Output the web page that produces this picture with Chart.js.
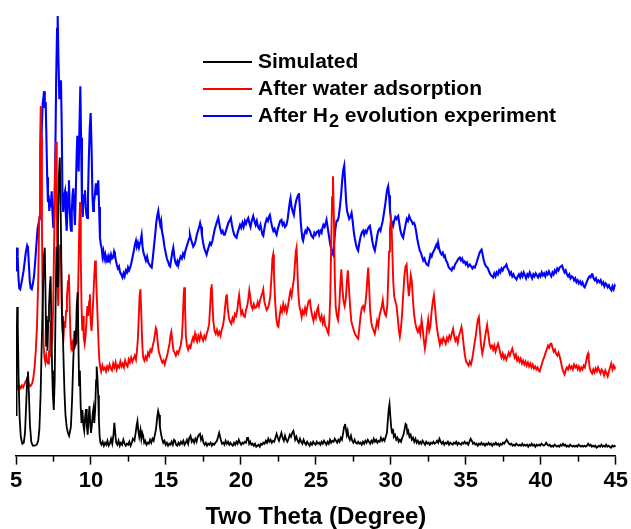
<!DOCTYPE html>
<html>
<head>
<meta charset="utf-8">
<script src="https://cdn.jsdelivr.net/npm/chart.js@4.4.1/dist/chart.umd.min.js"></script>
<style>
  html, body { margin: 0; padding: 0; background: #fff; }
  #wrap { width: 631px; height: 529px; }
</style>
</head>
<body>
<div id="wrap"><canvas id="xrd" width="631" height="529"></canvas></div>
<script>
// [two theta, intensity (arb.)], curves already offset
const simulated = [
[5.00,40],[5.04,110],[5.08,149],[5.12,130],[5.17,80],[5.24,38],[5.32,18],[5.42,11],[5.52,12],[5.6,22],[5.68,50],[5.75,78],[5.8,84],[5.86,62],[5.93,30],[6.02,13],[6.12,9],[6.25,9],[6.38,10],[6.48,14],[6.56,26],[6.64,60],[6.72,115],[6.8,165],[6.86,200],[6.92,209],[6.97,160],[7.01,110],[7.05,140],[7.1,105],[7.15,135],[7.2,150],[7.26,170],[7.31,180],[7.36,125],[7.41,85],[7.46,60],[7.52,45],[7.58,75],[7.64,150],[7.7,210],[7.75,170],[7.8,230],[7.86,280],[7.92,300],[7.97,260],[8.02,200],[8.07,140],[8.13,119],[8.18,90],[8.24,60],[8.3,40],[8.38,28],[8.46,22],[8.54,19],[8.6,19],[8.66,28],[8.74,55],[8.82,95],[8.9,125],[8.98,110],[9.05,150],[9.11,164],[9.16,115],[9.21,70],[9.26,85],[9.31,50],[9.37,32],[9.43,45],[9.49,30],[9.55,24],[9.61,38],[9.67,46],[9.72,30],[9.78,20],[9.84,36],[9.9,49],[9.95,32],[10.0,22],[10.06,30],[10.12,42],[10.17,47],[10.22,32],[10.28,45],[10.34,75],[10.38,89],[10.43,78],[10.48,60],[10.53,35],[10.58,18],[10.63,12],
[10.7,10],[10.78,13],[10.86,9],[10.94,12],[11.02,10],[11.1,14],[11.18,9],[11.26,11],[11.34,16],[11.42,11],[11.5,20],[11.56,32],[11.62,22],[11.68,12],[11.76,10],[11.84,14],[11.92,9],[12.0,12],[12.08,10],[12.16,15],[12.24,11],[12.32,9],[12.4,11],[12.48,10],[12.56,13],[12.64,9],[12.72,12],[12.8,16],[12.9,14],[12.98,22],[13.05,30],[13.1,34],[13.16,24],[13.22,18],[13.3,25],[13.36,16],[13.42,22],[13.48,19],[13.55,12],[13.62,14],[13.7,10],[13.78,12],[13.86,11],[13.94,15],[14.02,12],[14.1,16],[14.18,14],[14.26,20],[14.34,26],[14.42,38],[14.48,44],[14.54,40],[14.6,28],[14.66,22],[14.74,16],[14.82,12],[14.9,14],[14.98,10],[15.06,12],[15.14,9],[15.22,11],[15.3,10],[15.38,13],[15.46,10],[15.54,15],[15.6,14],[15.68,10],[15.76,9],[15.84,12],[15.92,10],[16.0,13],[16.08,11],[16.16,14],[16.24,10],[16.32,12],[16.4,15],[16.48,11],[16.56,17],[16.64,19],[16.72,13],[16.8,15],[16.88,12],[16.96,16],[17.04,13],[17.12,18],[17.2,20],[17.27,21],[17.34,15],[17.42,18],[17.5,12],[17.58,10],[17.66,12],[17.74,9],[17.82,11],[17.9,10],[17.98,12],[18.06,9],[18.14,11],[18.22,10],[18.3,12],[18.4,14],[18.48,18],[18.55,22],[18.6,22],[18.66,15],[18.74,11],[18.82,12],[18.9,10],[18.98,14],[19.06,11],[19.14,13],[19.22,10],[19.3,12],[19.38,10],[19.46,9],[19.54,12],[19.62,10],[19.7,13],[19.78,11],[19.86,15],[19.94,12],[20.02,10],[20.1,12],[20.18,11],[20.26,13],[20.34,12],[20.42,17],[20.48,17],[20.55,11],[20.62,13],[20.7,10],[20.78,11],[20.86,9],[20.94,11],[21.02,8],[21.1,9],[21.18,10],[21.26,8],[21.34,11],[21.42,10],[21.5,12],[21.58,11],[21.66,14],[21.74,12],[21.82,16],[21.9,13],[21.98,15],[22.06,12],[22.14,14],[22.22,13],[22.3,17],[22.38,21],[22.46,17],[22.54,14],[22.62,18],[22.7,22],[22.78,17],[22.86,14],[22.94,19],[23.02,15],[23.1,13],[23.18,16],[23.26,20],[23.34,18],[23.42,22],[23.5,24],[23.56,20],[23.62,15],[23.7,18],[23.78,14],[23.86,12],[23.94,16],[24.02,13],[24.1,11],[24.18,15],[24.26,12],[24.34,10],[24.42,13],[24.5,11],[24.58,9],[24.66,12],[24.74,10],[24.82,13],[24.9,11],[24.98,10],[25.06,13],[25.14,11],[25.22,12],[25.3,10],[25.38,13],[25.46,11],[25.54,14],[25.62,12],[25.7,10],[25.78,13],[25.86,11],[25.94,15],[26.02,12],[26.1,14],[26.18,13],[26.26,16],[26.34,14],[26.42,12],[26.5,15],[26.58,13],[26.66,17],[26.74,15],[26.82,22],[26.88,28],[26.94,31],[27.0,26],[27.06,20],[27.12,24],[27.18,18],[27.26,15],[27.34,19],[27.42,14],[27.5,12],[27.58,15],[27.66,12],[27.74,11],[27.82,13],[27.9,11],[27.98,12],[28.06,10],[28.14,13],[28.22,11],[28.3,14],[28.38,12],[28.46,15],[28.54,13],[28.62,11],[28.7,14],[28.78,12],[28.86,16],[28.94,13],[29.02,15],[29.1,12],[29.18,14],[29.26,13],[29.34,17],[29.42,14],[29.5,16],[29.58,14],[29.66,18],[29.74,22],[29.8,35],[29.86,46],[29.91,51],[29.96,40],[30.02,28],[30.08,22],[30.14,26],[30.2,18],[30.28,20],[30.36,15],[30.44,17],[30.52,13],[30.6,15],[30.68,13],[30.76,17],[30.84,20],[30.92,26],[30.98,31],[31.04,30],[31.1,22],[31.16,24],[31.24,18],[31.32,20],[31.4,15],[31.48,17],[31.56,13],[31.64,16],[31.72,12],[31.8,14],[31.88,11],[31.96,13],[32.04,11],[32.12,14],[32.2,12],[32.28,10],[32.36,13],[32.44,11],[32.52,12],[32.6,10],[32.68,12],[32.76,11],[32.84,13],[32.92,11],[33.0,12],[33.08,14],[33.16,12],[33.24,16],[33.32,13],[33.4,11],[33.48,13],[33.56,10],[33.64,12],[33.72,11],[33.8,13],[33.88,10],[33.96,12],[34.04,11],[34.12,10],[34.2,12],[34.28,11],[34.36,13],[34.44,10],[34.52,12],[34.6,11],[34.68,10],[34.76,12],[34.84,11],[34.92,13],[35.0,11],[35.08,12],[35.16,10],[35.24,13],[35.32,16],[35.4,14],[35.48,11],[35.56,12],[35.64,10],[35.72,11],[35.8,9],[35.88,11],[35.96,10],[36.04,12],[36.12,10],[36.2,11],[36.28,9],[36.36,11],[36.44,10],[36.52,12],[36.6,10],[36.68,11],[36.76,9],[36.84,11],[36.92,10],[37.0,12],[37.08,10],[37.16,11],[37.24,9],[37.32,11],[37.4,10],[37.48,12],[37.56,11],[37.64,13],[37.72,15],[37.8,13],[37.88,11],[37.96,10],[38.04,11],[38.12,9],[38.2,10],[38.28,9],[38.36,11],[38.44,10],[38.52,9],[38.6,10],[38.68,9],[38.76,11],[38.84,9],[38.92,10],[39.0,9],[39.08,10],[39.16,8],[39.24,10],[39.32,9],[39.4,11],[39.48,9],[39.56,10],[39.64,8],[39.72,10],[39.8,9],[39.88,10],[39.96,9],[40.04,11],[40.12,10],[40.2,9],[40.28,10],[40.36,12],[40.44,10],[40.52,9],[40.6,10],[40.68,8],[40.76,9],[40.84,8],[40.92,10],[41.0,9],[41.08,8],[41.16,9],[41.24,8],[41.32,10],[41.4,9],[41.48,11],[41.56,9],[41.64,10],[41.72,8],[41.8,9],[41.88,8],[41.96,10],[42.04,9],[42.12,8],[42.2,9],[42.28,8],[42.36,9],[42.44,8],[42.52,10],[42.6,9],[42.68,8],[42.76,9],[42.84,8],[42.92,9],[43.0,8],[43.08,9],[43.16,11],[43.24,9],[43.32,10],[43.4,8],[43.48,9],[43.56,8],[43.64,9],[43.72,7],[43.8,8],[43.88,9],[43.96,8],[44.04,10],[44.12,8],[44.2,9],[44.28,8],[44.36,10],[44.44,8],[44.52,9],[44.6,8],[44.68,7],[44.76,9],[44.84,8],[44.92,9],[45.0,8]
];

const waterAdsorbed = [
[5.0,76],[5.03,70],[5.07,66],[5.12,68],[5.18,66],[5.25,69],[5.32,67],[5.4,70],[5.48,68],[5.56,71],[5.64,74],[5.72,76],[5.8,75],[5.86,71],[5.93,69],[6.0,70],[6.08,72],[6.16,78],[6.24,88],[6.32,105],[6.4,130],[6.48,175],[6.55,240],[6.6,310],[6.65,352],[6.69,320],[6.73,230],[6.78,150],[6.84,110],[6.9,98],[6.96,93],[7.02,100],[7.08,94],[7.14,92],[7.2,105],[7.26,98],[7.31,135],[7.36,108],[7.42,118],[7.48,150],[7.55,220],[7.61,290],[7.67,316],[7.72,260],[7.77,170],[7.82,150],[7.88,195],[7.95,212],[8.0,200],[8.05,150],[8.1,125],[8.17,119],[8.23,135],[8.28,128],[8.34,145],[8.4,160],[8.47,175],[8.53,182],[8.58,150],[8.63,120],[8.69,108],[8.75,112],[8.8,104],[8.86,115],[8.92,107],[8.98,118],[9.04,112],[9.1,135],[9.16,180],[9.22,230],[9.27,255],[9.32,200],[9.37,150],[9.42,125],[9.47,140],[9.52,118],[9.58,112],[9.64,120],[9.7,135],[9.76,150],[9.82,140],[9.88,155],[9.93,162],[9.98,135],[10.04,125],[10.1,140],[10.16,160],[10.22,180],[10.28,196],[10.33,185],[10.39,160],[10.45,135],[10.51,110],[10.56,95],[10.61,89],
[10.68,84],[10.76,90],[10.84,86],[10.92,88],[11.0,84],[11.08,89],[11.16,86],[11.24,91],[11.32,87],[11.4,85],[11.48,92],[11.56,88],[11.64,93],[11.72,86],[11.8,90],[11.88,88],[11.96,94],[12.04,89],[12.12,92],[12.2,88],[12.28,95],[12.36,91],[12.44,89],[12.52,96],[12.6,93],[12.68,98],[12.76,94],[12.84,97],[12.92,100],[13.0,96],[13.06,104],[13.12,115],[13.18,135],[13.24,160],[13.3,167],[13.36,140],[13.42,112],[13.48,98],[13.56,95],[13.64,99],[13.72,96],[13.8,103],[13.88,100],[13.96,106],[14.04,104],[14.12,110],[14.2,115],[14.27,122],[14.33,128],[14.38,126],[14.44,115],[14.52,104],[14.6,100],[14.68,96],[14.76,93],[14.84,95],[14.92,91],[15.0,96],[15.08,100],[15.16,106],[15.24,112],[15.3,120],[15.36,124],[15.42,116],[15.5,105],[15.58,103],[15.66,100],[15.74,104],[15.82,102],[15.9,106],[15.98,110],[16.06,118],[16.12,135],[16.18,160],[16.22,169],[16.27,150],[16.33,120],[16.4,110],[16.48,106],[16.56,110],[16.64,108],[16.72,114],[16.8,118],[16.86,115],[16.94,122],[17.0,117],[17.08,114],[17.16,120],[17.24,116],[17.32,122],[17.4,118],[17.48,115],[17.56,120],[17.64,117],[17.72,122],[17.8,126],[17.88,132],[17.95,150],[18.01,168],[18.05,172],[18.1,155],[18.16,135],[18.24,125],[18.32,122],[18.4,126],[18.48,121],[18.56,124],[18.64,120],[18.72,126],[18.8,130],[18.88,138],[18.95,150],[19.02,160],[19.06,162],[19.12,148],[19.2,138],[19.28,134],[19.36,132],[19.44,138],[19.52,135],[19.6,142],[19.68,140],[19.76,146],[19.82,155],[19.88,161],[19.94,152],[20.02,142],[20.1,145],[20.18,140],[20.26,139],[20.34,146],[20.42,150],[20.5,158],[20.56,166],[20.62,160],[20.7,150],[20.78,147],[20.86,152],[20.94,148],[21.04,149],[21.12,154],[21.2,150],[21.28,156],[21.36,160],[21.44,164],[21.49,167],[21.56,155],[21.64,150],[21.72,146],[21.8,148],[21.88,152],[21.96,160],[22.04,180],[22.1,198],[22.15,202],[22.2,185],[22.28,155],[22.36,138],[22.44,130],[22.5,129],[22.58,140],[22.66,148],[22.74,144],[22.82,152],[22.9,146],[22.98,150],[23.06,144],[23.14,150],[23.22,158],[23.3,165],[23.38,160],[23.46,170],[23.54,178],[23.6,192],[23.66,205],[23.71,209],[23.76,190],[23.82,165],[23.9,150],[23.98,145],[24.05,139],[24.12,145],[24.2,142],[24.28,148],[24.36,143],[24.44,150],[24.52,155],[24.6,156],[24.68,146],[24.76,140],[24.84,135],[24.92,142],[25.0,138],[25.08,146],[25.15,149],[25.22,140],[25.3,136],[25.38,140],[25.46,133],[25.54,138],[25.62,130],[25.7,128],[25.78,124],[25.84,122],[25.9,135],[25.96,160],[26.02,210],[26.08,260],[26.14,281],[26.2,240],[26.26,180],[26.32,150],[26.4,140],[26.48,136],[26.56,150],[26.63,172],[26.7,187],[26.76,170],[26.84,155],[26.92,150],[27.0,158],[27.07,175],[27.13,186],[27.2,170],[27.28,150],[27.36,135],[27.44,130],[27.52,126],[27.6,122],[27.68,120],[27.76,118],[27.82,117],[27.9,128],[27.98,140],[28.06,148],[28.14,150],[28.22,146],[28.3,152],[28.38,165],[28.44,180],[28.49,189],[28.55,170],[28.62,145],[28.7,133],[28.78,128],[28.86,125],[28.93,122],[29.0,128],[29.08,135],[29.16,130],[29.24,140],[29.32,145],[29.4,150],[29.46,156],[29.52,148],[29.6,142],[29.68,140],[29.76,150],[29.82,175],[29.88,205],[29.94,228],[30.0,237],[30.05,231],[30.1,205],[30.16,175],[30.22,160],[30.3,155],[30.38,150],[30.46,138],[30.54,125],[30.6,119],[30.66,125],[30.74,140],[30.82,160],[30.9,180],[30.98,190],[31.05,192],[31.12,175],[31.2,160],[31.27,170],[31.33,181],[31.4,175],[31.48,155],[31.56,140],[31.64,132],[31.72,127],[31.8,124],[31.88,128],[31.96,122],[32.05,136],[32.12,128],[32.2,115],[32.27,107],[32.34,115],[32.42,128],[32.49,136],[32.56,125],[32.64,130],[32.72,145],[32.8,155],[32.87,161],[32.94,150],[33.02,135],[33.1,125],[33.18,118],[33.27,111],[33.35,116],[33.42,113],[33.5,118],[33.58,115],[33.66,112],[33.74,118],[33.82,115],[33.9,120],[33.98,117],[34.06,122],[34.15,127],[34.22,120],[34.3,115],[34.38,118],[34.46,113],[34.54,120],[34.62,124],[34.71,129],[34.78,122],[34.86,110],[34.94,100],[35.02,94],[35.1,92],[35.18,90],[35.26,94],[35.34,91],[35.42,96],[35.5,104],[35.58,112],[35.66,120],[35.74,130],[35.8,136],[35.87,139],[35.94,125],[36.02,110],[36.1,102],[36.18,108],[36.26,116],[36.34,124],[36.42,131],[36.5,122],[36.58,112],[36.66,108],[36.74,110],[36.82,106],[36.9,110],[36.98,104],[37.06,108],[37.15,112],[37.22,108],[37.3,102],[37.38,98],[37.46,102],[37.54,97],[37.62,100],[37.7,96],[37.78,99],[37.86,103],[37.94,100],[38.02,104],[38.1,107],[38.18,102],[38.26,98],[38.34,101],[38.42,95],[38.5,98],[38.58,94],[38.66,97],[38.74,92],[38.82,95],[38.9,91],[38.98,94],[39.06,90],[39.14,93],[39.22,89],[39.3,92],[39.38,88],[39.46,91],[39.54,87],[39.62,89],[39.7,86],[39.78,88],[39.86,85],[39.93,84],[40.0,88],[40.08,92],[40.16,96],[40.24,99],[40.32,103],[40.4,106],[40.48,110],[40.56,108],[40.64,112],[40.71,112],[40.78,108],[40.86,104],[40.94,106],[41.02,102],[41.1,100],[41.18,103],[41.26,99],[41.34,94],[41.42,88],[41.5,84],[41.58,81],[41.66,85],[41.74,88],[41.82,86],[41.9,90],[41.98,87],[42.06,89],[42.14,86],[42.22,91],[42.3,88],[42.38,90],[42.46,86],[42.54,89],[42.62,85],[42.7,88],[42.78,86],[42.86,90],[42.94,88],[43.02,94],[43.1,100],[43.15,102],[43.2,96],[43.26,88],[43.34,84],[43.42,82],[43.5,86],[43.58,83],[43.66,87],[43.74,84],[43.82,88],[43.9,85],[43.98,82],[44.06,86],[44.14,84],[44.22,80],[44.3,85],[44.38,82],[44.46,79],[44.54,84],[44.62,88],[44.7,92],[44.78,86],[44.86,90],[44.94,87],[45.0,89]
];

const h2Evolution = [
[5.0,186],[5.03,200],[5.07,209],[5.11,200],[5.16,180],[5.22,168],[5.28,167],[5.35,172],[5.42,178],[5.5,185],[5.58,195],[5.66,205],[5.74,211],[5.8,208],[5.86,192],[5.92,175],[5.98,168],[6.05,167],[6.12,172],[6.2,180],[6.28,195],[6.36,212],[6.44,228],[6.52,235],[6.6,239],[6.66,280],[6.72,330],[6.78,355],[6.84,362],[6.87,367],[6.92,350],[6.98,356],[7.03,319],[7.08,280],[7.13,255],[7.18,262],[7.22,246],[7.28,258],[7.33,250],[7.38,266],[7.43,245],[7.49,229],[7.55,240],[7.62,300],[7.68,380],[7.74,430],[7.78,443],[7.83,400],[7.89,359],[7.95,370],[8.0,378],[8.05,330],[8.1,259],[8.15,245],[8.21,262],[8.27,266],[8.33,240],[8.38,226],[8.44,250],[8.49,265],[8.53,277],[8.58,250],[8.63,232],[8.67,226],[8.72,245],[8.77,262],[8.82,269],[8.87,250],[8.93,232],[8.98,260],[9.04,300],[9.09,322],[9.14,300],[9.18,286],[9.23,330],[9.29,372],[9.34,320],[9.4,252],[9.45,240],[9.5,258],[9.55,262],[9.6,267],[9.65,250],[9.7,242],[9.75,239],[9.8,260],[9.86,300],[9.92,330],[9.98,345],[10.04,310],[10.1,260],[10.15,246],[10.2,255],[10.26,262],[10.33,274],[10.38,262],[10.43,270],[10.49,277],[10.54,250],[10.6,219],[10.66,212],[10.71,209],[10.77,200],[10.83,205],[10.89,198],[10.95,202],[11.01,196],[11.07,199],[11.13,194],[11.2,200],[11.27,196],[11.34,202],[11.41,198],[11.48,199],[11.54,205],[11.6,202],[11.66,196],[11.72,192],[11.8,188],[11.87,190],[11.94,184],[12.02,182],[12.1,179],[12.17,183],[12.24,180],[12.32,186],[12.4,184],[12.47,189],[12.54,186],[12.62,189],[12.7,194],[12.78,200],[12.86,206],[12.93,212],[13.0,216],[13.06,210],[13.13,214],[13.2,209],[13.27,214],[13.33,218],[13.38,222],[13.44,210],[13.5,204],[13.58,200],[13.66,196],[13.74,200],[13.82,194],[13.9,192],[13.98,190],[14.05,189],[14.12,198],[14.2,210],[14.28,222],[14.36,235],[14.43,242],[14.49,246],[14.55,238],[14.62,232],[14.68,236],[14.74,225],[14.82,219],[14.9,210],[14.98,204],[15.06,198],[15.14,195],[15.22,191],[15.28,190],[15.36,198],[15.43,205],[15.49,209],[15.56,200],[15.63,194],[15.7,192],[15.76,195],[15.82,191],[15.9,196],[15.98,200],[16.06,198],[16.14,203],[16.22,200],[16.3,206],[16.38,210],[16.46,214],[16.54,218],[16.6,222],[16.66,218],[16.74,214],[16.82,210],[16.9,212],[16.98,216],[17.06,222],[17.14,226],[17.22,230],[17.28,234],[17.34,230],[17.4,222],[17.48,214],[17.56,208],[17.64,205],[17.71,202],[17.78,206],[17.86,210],[17.94,214],[18.02,212],[18.1,216],[18.18,222],[18.26,228],[18.34,232],[18.42,236],[18.49,239],[18.55,234],[18.62,228],[18.7,224],[18.78,226],[18.86,222],[18.93,222],[19.0,226],[19.08,230],[19.16,234],[19.24,236],[19.33,239],[19.4,232],[19.48,226],[19.56,222],[19.64,220],[19.71,219],[19.78,224],[19.86,228],[19.94,232],[20.02,229],[20.1,234],[20.18,230],[20.26,236],[20.34,233],[20.42,237],[20.49,239],[20.56,234],[20.64,230],[20.72,236],[20.82,241],[20.9,236],[20.98,232],[21.06,236],[21.14,230],[21.22,228],[21.3,232],[21.38,226],[21.44,222],[21.49,221],[21.56,228],[21.64,234],[21.72,238],[21.8,236],[21.86,240],[21.93,242],[22.0,236],[22.08,230],[22.16,226],[22.24,228],[22.32,224],[22.38,222],[22.46,228],[22.54,232],[22.62,236],[22.71,237],[22.78,232],[22.86,234],[22.94,230],[23.04,232],[23.12,238],[23.2,248],[23.26,255],[23.31,259],[23.38,250],[23.46,245],[23.53,242],[23.6,250],[23.68,256],[23.76,260],[23.82,262],[23.87,264],[23.93,250],[23.99,235],[24.05,225],[24.1,218],[24.15,216],[24.22,222],[24.3,226],[24.38,224],[24.45,229],[24.52,228],[24.6,226],[24.68,222],[24.76,220],[24.82,219],[24.9,224],[24.98,222],[25.06,225],[25.15,226],[25.22,222],[25.3,226],[25.38,224],[25.44,229],[25.5,232],[25.58,230],[25.66,234],[25.71,237],[25.78,230],[25.86,222],[25.94,214],[26.02,208],[26.08,204],[26.15,202],[26.22,214],[26.3,228],[26.38,236],[26.44,236],[26.52,240],[26.6,250],[26.68,262],[26.76,278],[26.83,288],[26.89,292],[26.95,275],[27.02,255],[27.08,246],[27.15,242],[27.22,238],[27.3,240],[27.38,244],[27.45,236],[27.52,226],[27.6,218],[27.68,212],[27.75,208],[27.82,206],[27.9,214],[27.98,220],[28.06,224],[28.15,226],[28.22,222],[28.3,226],[28.38,224],[28.46,228],[28.54,230],[28.6,231],[28.68,224],[28.76,216],[28.84,210],[28.93,206],[29.0,212],[29.08,220],[29.16,226],[29.24,228],[29.31,226],[29.38,231],[29.46,236],[29.54,244],[29.62,252],[29.7,262],[29.76,268],[29.82,271],[29.88,262],[29.94,248],[30.0,238],[30.08,234],[30.15,231],[30.22,236],[30.3,240],[30.38,238],[30.44,240],[30.49,241],[30.56,234],[30.64,226],[30.72,222],[30.82,219],[30.9,226],[30.98,232],[31.06,238],[31.14,236],[31.22,241],[31.3,238],[31.38,236],[31.46,233],[31.54,234],[31.6,232],[31.68,226],[31.76,218],[31.84,212],[31.93,206],[32.0,204],[32.08,200],[32.16,196],[32.24,198],[32.32,194],[32.4,192],[32.49,191],[32.56,196],[32.64,202],[32.72,200],[32.8,204],[32.88,206],[32.96,209],[33.04,212],[33.1,210],[33.15,214],[33.22,208],[33.3,204],[33.38,202],[33.46,204],[33.54,200],[33.6,201],[33.68,196],[33.76,194],[33.84,190],[33.92,188],[34.0,187],[34.05,186],[34.12,189],[34.2,188],[34.28,192],[34.36,194],[34.44,196],[34.52,198],[34.6,199],[34.68,196],[34.76,198],[34.84,194],[34.92,195],[35.0,192],[35.08,194],[35.16,190],[35.27,192],[35.36,190],[35.44,188],[35.52,190],[35.6,189],[35.68,192],[35.76,196],[35.84,200],[35.92,204],[36.0,206],[36.05,207],[36.12,202],[36.2,196],[36.28,192],[36.36,190],[36.44,189],[36.52,186],[36.6,183],[36.68,181],[36.76,180],[36.82,179],[36.9,183],[36.98,180],[37.06,184],[37.14,182],[37.22,186],[37.3,184],[37.38,188],[37.46,186],[37.54,189],[37.62,190],[37.71,192],[37.78,188],[37.86,186],[37.94,182],[38.02,184],[38.1,180],[38.18,182],[38.26,179],[38.34,178],[38.38,177],[38.46,180],[38.54,182],[38.62,179],[38.7,183],[38.78,180],[38.86,184],[38.94,181],[39.02,178],[39.1,182],[39.18,180],[39.26,184],[39.34,181],[39.42,178],[39.5,182],[39.58,180],[39.66,183],[39.74,181],[39.82,179],[39.9,182],[39.98,180],[40.06,184],[40.14,181],[40.22,183],[40.3,180],[40.38,184],[40.46,182],[40.54,185],[40.62,182],[40.7,180],[40.78,184],[40.86,182],[40.94,186],[41.02,184],[41.1,188],[41.18,186],[41.26,189],[41.34,190],[41.42,191],[41.5,187],[41.58,184],[41.66,186],[41.74,182],[41.82,180],[41.9,182],[41.98,178],[42.06,180],[42.15,179],[42.22,176],[42.3,178],[42.38,174],[42.46,176],[42.54,173],[42.62,175],[42.7,172],[42.78,174],[42.86,170],[42.93,169],[43.0,172],[43.08,175],[43.16,178],[43.24,180],[43.32,179],[43.4,182],[43.45,182],[43.52,178],[43.6,176],[43.68,178],[43.76,174],[43.84,176],[43.93,174],[44.0,176],[44.08,172],[44.16,174],[44.24,170],[44.32,173],[44.38,172],[44.46,169],[44.54,171],[44.62,168],[44.71,166],[44.78,170],[44.86,167],[44.94,171],[45.0,170]
];

const seriesNames = ['Simulated', 'After water adsorption', 'After H2 evolution experiment'];
const seriesColors = ['#000000', '#ff0000', '#0000ff'];
const xTicks = [5, 10, 15, 20, 25, 30, 35, 40, 45];

const FONT = '"Liberation Sans", Arial, sans-serif';

function toPoints(arr) {
    return arr.map(p => ({ x: p[0], y: p[1] }));
}

// legend drawn by hand so the "2" in H2 can sit as a subscript
const legendPlugin = {
    id: 'xrdLegend',
    afterDraw(chart) {
        const ctx = chart.ctx;
        const rows = [62, 89, 116];
        ctx.save();
        ctx.textBaseline = 'middle';
        ctx.fillStyle = '#000';
        for (let i = 0; i < seriesNames.length; i++) {
            let y = rows[i];
            ctx.strokeStyle = seriesColors[i];
            ctx.lineWidth = 2;
            ctx.beginPath();
            ctx.moveTo(203, y);
            ctx.lineTo(252, y);
            ctx.stroke();

            ctx.font = 'bold 21px ' + FONT;
            let x = 258;
            let name = seriesNames[i];
            let sub = name.indexOf('H2');
            if (sub < 0) {
                ctx.fillText(name, x, y);
            } else {
                let before = name.slice(0, sub + 1);
                let after = name.slice(sub + 2);
                ctx.fillText(before, x, y);
                x += ctx.measureText(before).width;
                ctx.font = 'bold 18px ' + FONT;
                ctx.fillText('2', x + 1, y + 6);
                x += ctx.measureText('2').width + 1;
                ctx.font = 'bold 21px ' + FONT;
                ctx.fillText(after, x, y);
            }
        }
        ctx.restore();
    }
};

// shorter minor ticks at the half steps
const minorTicks = {
    id: 'minorTicks',
    afterDraw(chart) {
        const xs = chart.scales.x;
        const ctx = chart.ctx;
        const y0 = chart.chartArea.bottom;
        ctx.save();
        ctx.strokeStyle = '#000';
        ctx.lineWidth = 1.5;
        xs.ticks.forEach(t => {
            if (xTicks.indexOf(t.value) < 0) {
                let px = Math.round(xs.getPixelForValue(t.value)) + 0.5;
                ctx.beginPath();
                ctx.moveTo(px, y0);
                ctx.lineTo(px, y0 + 6);
                ctx.stroke();
            }
        });
        ctx.restore();
    }
};

let canvas = document.getElementById('xrd').getContext('2d');
let chart = new Chart(canvas, {
    type: 'line',
    data: {
        datasets: [
            { label: seriesNames[0], data: toPoints(simulated), borderColor: seriesColors[0], borderWidth: 1.8 },
            { label: seriesNames[1], data: toPoints(waterAdsorbed), borderColor: seriesColors[1], borderWidth: 1.9 },
            { label: seriesNames[2], data: toPoints(h2Evolution), borderColor: seriesColors[2], borderWidth: 2.1 }
        ]
    },
    options: {
        responsive: false,
        animation: false,
        devicePixelRatio: 1,
        elements: { point: { radius: 0 }, line: { tension: 0, fill: false } },
        layout: { padding: { top: 10, left: 16, right: 15, bottom: 0 } },
        plugins: { legend: { display: false }, tooltip: { enabled: false } },
        scales: {
            x: {
                type: 'linear',
                min: 5,
                max: 45,
                border: { display: true, color: '#000', width: 1.5 },
                grid: {
                    display: true,
                    drawOnChartArea: false,
                    drawTicks: true,
                    tickLength: 9,
                    tickWidth: 1.5,
                    tickColor: c => (c.tick && xTicks.indexOf(c.tick.value) >= 0) ? '#000' : 'rgba(0,0,0,0)'
                },
                ticks: {
                    stepSize: 2.5,
                    autoSkip: false,
                    maxRotation: 0,
                    padding: 3,
                    color: '#000',
                    font: { family: FONT, size: 22, weight: 'bold', lineHeight: 1.2 },
                    callback: v => xTicks.indexOf(v) >= 0 ? String(v) : ''
                },
                title: {
                    display: true,
                    text: 'Two Theta (Degree)',
                    color: '#000',
                    font: { family: FONT, size: 24, weight: 'bold', lineHeight: 1 },
                    padding: { top: 8, bottom: 0 }
                }
            },
            y: { display: false, min: -1, max: 449 }
        }
    },
    plugins: [legendPlugin, minorTicks]
});
</script>
</body>
</html>
